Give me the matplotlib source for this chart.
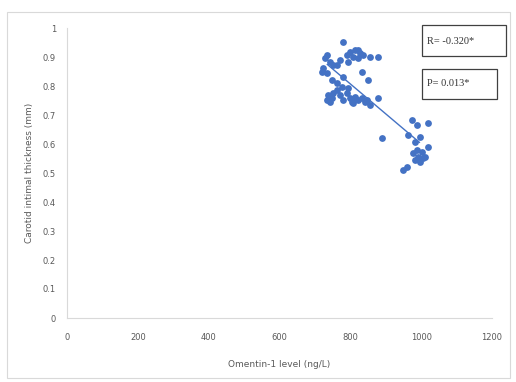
import matplotlib.pyplot as plt
import numpy as np
from matplotlib.patches import Rectangle

# Omentin-1 (ng/L) vs carotid intimal thickness (mm)
omentin = [780, 734, 729, 743, 751, 723, 720, 734, 763, 791, 799, 814, 822, 828,
           808, 822, 836, 856, 878, 794, 771, 780, 833, 850, 749, 763,
           737, 734, 749, 763, 771, 780, 791, 799, 805, 814, 822, 833, 842, 856,
           878, 794, 777, 751, 743, 808, 847,
           890,
           975, 989, 1020, 963, 997, 983, 1020, 989, 1003, 977, 992, 1006, 983,
           997, 1011, 960, 949]
cimt = [0.952, 0.907, 0.897, 0.883, 0.872, 0.862, 0.848, 0.845, 0.872, 0.907,
        0.917, 0.924, 0.924, 0.914, 0.900, 0.897, 0.907, 0.900, 0.900, 0.883,
        0.890, 0.831, 0.848, 0.821, 0.821, 0.810,
        0.769, 0.752, 0.759, 0.786, 0.769, 0.752, 0.776, 0.759, 0.745, 0.762,
        0.752, 0.759, 0.745, 0.734, 0.759, 0.793, 0.797, 0.776, 0.745, 0.741, 0.752,
        0.621,
        0.683, 0.666, 0.672, 0.631, 0.624, 0.607, 0.590, 0.579, 0.572, 0.569,
        0.555, 0.552, 0.545, 0.538, 0.555, 0.521, 0.510]

xticks = [0, 200, 400, 600, 800, 1000, 1200]
yticks = [0, 0.1, 0.2, 0.3, 0.4, 0.5, 0.6, 0.7, 0.8, 0.9, 1]
ytick_labels = ['0', '0.1', '0.2', '0.3', '0.4', '0.5', '0.6', '0.7', '0.8', '0.9', '1']

blue = '#4472C4'
grey_txt = '#595959'
grey_line = '#d9d9d9'

fig = plt.figure(figsize=(5.16, 3.82), dpi=100)
ax = fig.add_axes([67/516, 1 - 318/382, (492 - 67)/516, (318 - 28)/382])

ax.scatter(omentin, cimt, s=24, color=blue, zorder=3, linewidths=0)

# linear trendline over the data range
x = np.array(omentin)
m, b = np.polyfit(x, np.array(cimt), 1)
xs = np.array([x.min() + 15, x.max() - 25])
ax.plot(xs, m*xs + b, color=blue, lw=1.0, zorder=2)

ax.set_xlim(0, 1200)
ax.set_ylim(0, 1)
ax.set_xticks(xticks)
ax.set_yticks(yticks)
ax.set_yticklabels(ytick_labels)
ax.tick_params(axis='x', length=0, labelsize=6, labelcolor=grey_txt, pad=11)
ax.tick_params(axis='y', length=0, labelsize=6, labelcolor=grey_txt, pad=8)
for s in ['top', 'right']:
    ax.spines[s].set_visible(False)
for s in ['left', 'bottom']:
    ax.spines[s].set_color(grey_line)
    ax.spines[s].set_linewidth(0.8)

ax.set_xlabel('Omentin-1 level (ng/L)', fontsize=6.5, color=grey_txt, labelpad=13)
ax.set_ylabel('Carotid intimal thickness (mm)', fontsize=6.5, color=grey_txt, labelpad=6)

# outer chart border
fig.patches.append(Rectangle((7/516, 1 - 378/382), 503/516, 366/382,
                             transform=fig.transFigure, fill=False,
                             edgecolor=grey_line, lw=0.8))

# R and P boxes
fig.patches.append(Rectangle((422/516, 1 - 56/382), 84/516, 31/382,
                             transform=fig.transFigure, facecolor='white',
                             edgecolor='#404040', lw=0.9, zorder=5))
fig.text(427/516, 1 - 41/382, 'R= -0.320*', fontsize=7.5, family='Liberation Serif',
         color='#333333', va='center', ha='left', zorder=6)
fig.patches.append(Rectangle((422/516, 1 - 99/382), 75/516, 30/382,
                             transform=fig.transFigure, facecolor='white',
                             edgecolor='#404040', lw=0.9, zorder=5))
fig.text(427/516, 1 - 84/382, 'P= 0.013*', fontsize=7.5, family='Liberation Serif',
         color='#333333', va='center', ha='left', zorder=6)

fig.savefig('out.png', dpi=100)
